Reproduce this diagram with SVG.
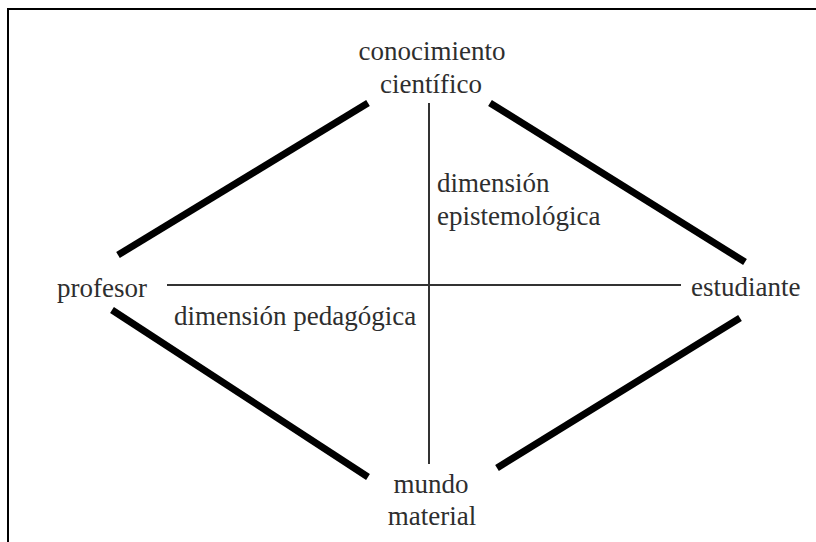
<svg xmlns="http://www.w3.org/2000/svg" width="816" height="542" viewBox="0 0 816 542">
<style>
.t{font-family:"Liberation Serif","DejaVu Serif",serif;font-size:27px;fill:#2e2e2e}
.thick{stroke:#000;stroke-width:7;stroke-linecap:butt;fill:none}
.thin{stroke:#333;stroke-width:2;fill:none}
</style>
<rect width="816" height="542" fill="#fff"/>
<path d="M8,542 V9 H816" stroke="#000" stroke-width="2" fill="none"/>
<g id="connectors">
<line class="thick" x1="118" y1="255" x2="368" y2="103"/>
<line class="thick" x1="490" y1="103" x2="745" y2="262"/>
<line class="thick" x1="112" y1="310" x2="368" y2="477"/>
<line class="thick" x1="497" y1="468" x2="740" y2="318"/>
<line class="thin" x1="429" y1="103" x2="429" y2="464"/>
<line class="thin" x1="167" y1="285" x2="681" y2="285"/>
</g>
<g id="conocimiento"><text class="t" x="432" y="60" text-anchor="middle">conocimiento</text><text class="t" x="431" y="93" text-anchor="middle">científico</text></g>
<g id="profesor"><text class="t" x="57" y="297">profesor</text></g>
<g id="estudiante"><text class="t" x="691" y="296">estudiante</text></g>
<g id="mundo"><text class="t" x="431" y="493" text-anchor="middle">mundo</text><text class="t" x="432" y="525" text-anchor="middle">material</text></g>
<g id="dim-epis"><text class="t" x="437" y="192">dimensión</text><text class="t" x="437" y="225">epistemológica</text></g>
<g id="dim-ped"><text class="t" x="174" y="325">dimensión pedagógica</text></g>
</svg>
